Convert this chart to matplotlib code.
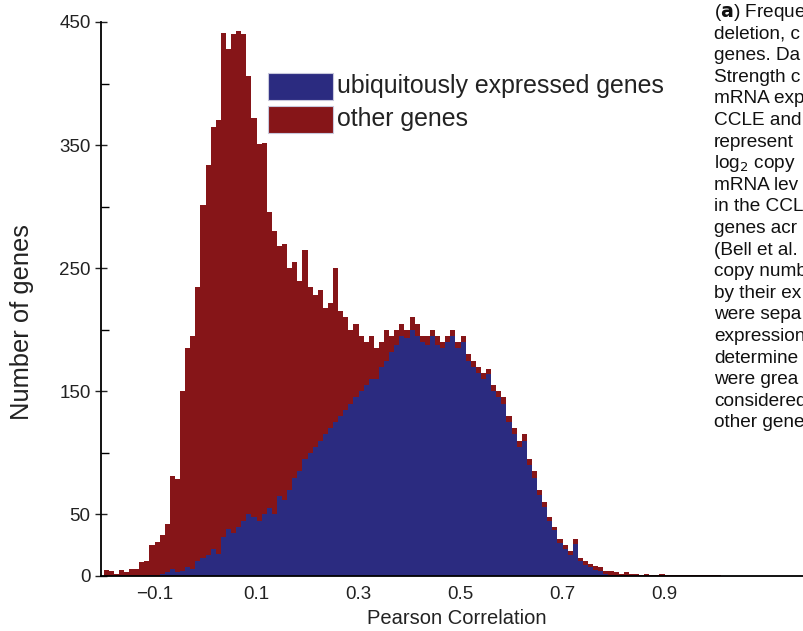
import numpy as np
import matplotlib
matplotlib.use("Agg")
import matplotlib.pyplot as plt
from matplotlib.patches import Rectangle

plt.rcParams['font.family'] = ['Liberation Sans', 'DejaVu Sans']

# ---- data: histogram bins (left edges), width 0.01 ----
bin_width = 0.01
bin_start = -0.20
# total counts per bin (all genes) and ubiquitously expressed counts
total_counts = [
    5, 4, 2, 5, 3, 6, 6, 11, 12, 25,        # -0.20 .. -0.11
    28, 33, 42, 81, 79, 150, 185, 195, 235, 301,  # -0.10 .. -0.01
    334, 365, 370, 441, 428, 440, 443, 440, 406, 372,  # 0.00 .. 0.09
    351, 352, 296, 280, 268, 270, 250, 255, 240, 265,  # 0.10 .. 0.19
    235, 228, 232, 218, 222, 250, 215, 210, 200, 205,  # 0.20 .. 0.29
    195, 190, 195, 185, 190, 200, 195, 200, 205, 200,  # 0.30 .. 0.39
    210, 205, 195, 195, 200, 195, 190, 195, 200, 190,  # 0.40 .. 0.49
    195, 180, 175, 170, 165, 168, 155, 150, 145, 130,  # 0.50 .. 0.59
    120, 110, 115, 95, 85, 70, 60, 48, 40, 30,         # 0.60 .. 0.69
    25, 20, 30, 15, 12, 10, 8, 7, 4, 4,                # 0.70 .. 0.79
    3, 2, 3, 2, 2, 1, 2, 1, 1, 2,                      # 0.80 .. 0.89
    1, 1, 1, 1, 1, 1, 1, 1, 1, 1, 1                    # 0.90 .. 1.00
]
ubiq_counts = [
    0, 0, 0, 0, 0, 0, 0, 0, 0, 1,
    0, 2, 3, 6, 3, 4, 7, 6, 12, 15,
    17, 22, 18, 32, 38, 35, 40, 45, 50, 48,
    45, 50, 55, 50, 65, 62, 70, 80, 85, 95,
    100, 105, 110, 115, 120, 125, 130, 135, 140, 145,
    150, 155, 160, 160, 170, 175, 182, 188, 195, 193,
    200, 195, 190, 188, 195, 188, 185, 190, 195, 185,
    190, 175, 170, 165, 160, 164, 150, 145, 140, 125,
    115, 105, 110, 90, 80, 66, 56, 45, 37, 27,
    22, 17, 26, 12, 9, 7, 5, 4, 2, 1,
    0, 0, 0, 0, 0, 0, 0, 0, 0, 0,
    0, 0, 0, 0, 0, 0, 0, 0, 0, 0, 0
]
legend_labels = ['ubiquitously expressed genes', 'other genes']
x_tick_values = [-0.1, 0.1, 0.3, 0.5, 0.7, 0.9]
x_tick_labels = ['\u22120.1', '0.1', '0.3', '0.5', '0.7', '0.9']
y_major_ticks = [0, 50, 150, 250, 350, 450]
y_minor_ticks = [100, 200, 300, 400]

caption_lines = [
    r'($\mathbf{a}$) Freque', 'deletion, c', 'genes. Da', 'Strength c',
    'mRNA exp', 'CCLE and', 'represent', r'log$_2$ copy', 'mRNA lev',
    'in the CCL', 'genes acr', '(Bell et al.', 'copy numb', 'by their ex',
    'were sepa', 'expression', 'determine', 'were grea', 'considered',
    'other gene'
]

blue = '#2b2b80'
red = '#861518'

total = np.array(total_counts, dtype=float)
ubiq = np.array(ubiq_counts, dtype=float)
other = total - ubiq
edges = bin_start + bin_width * np.arange(len(total))

W, H = 804, 631
fig = plt.figure(figsize=(W / 100, H / 100), dpi=100)
ax = fig.add_axes([101 / W, 1 - 576 / H, (W - 101) / W, (576 - 22) / H])

ax.bar(edges, ubiq, width=bin_width, align='edge', color=blue, linewidth=0)
ax.bar(edges, other, width=bin_width, bottom=ubiq, align='edge', color=red, linewidth=0)

ax.set_xlim(-0.205, -0.205 + (W - 101) / 510)
ax.set_ylim(0, 450)
for s in ['top', 'right']:
    ax.spines[s].set_visible(False)
for s in ['left', 'bottom']:
    ax.spines[s].set_linewidth(1.3)
ax.set_xticks(x_tick_values)
ax.set_xticklabels(x_tick_labels)
ax.set_yticks(y_major_ticks)
ax.set_yticks(y_minor_ticks, minor=True)
ax.tick_params(axis='x', direction='in', length=0, labelsize=13.5, pad=7, colors='#222222')
ax.tick_params(axis='y', which='major', direction='inout', length=9, width=1, labelsize=13.5, pad=3, colors='#222222')
ax.tick_params(axis='y', which='minor', direction='in', length=6, width=1)

fig.text(457 / W, 1 - 619 / H, 'Pearson Correlation', fontsize=14.5, color='#222222',
         ha='center', va='center')
fig.text(22 / W, 1 - 322 / H, 'Number of genes', fontsize=18.4, color='#222222',
         ha='center', va='center', rotation=90)

# legend drawn manually
for i, (lab, col) in enumerate(zip(legend_labels, [blue, red])):
    y_top = 73 + i * 33
    fig.patches.append(Rectangle((268 / W, 1 - (y_top + 27) / H), 65 / W, 27 / H,
                                 transform=fig.transFigure, facecolor=col,
                                 edgecolor='#c8c8dc', linewidth=0.8))
    fig.text(337 / W, 1 - (y_top + 13.5) / H, lab, fontsize=17.9, color='#222222',
             va='center', ha='left')

for i, line in enumerate(caption_lines):
    fig.text(714 / W, 1 - (12.5 + 21.6 * i) / H, line, fontsize=13.7, color='#111111',
             va='center', ha='left')

fig.savefig('out.png', dpi=100)
